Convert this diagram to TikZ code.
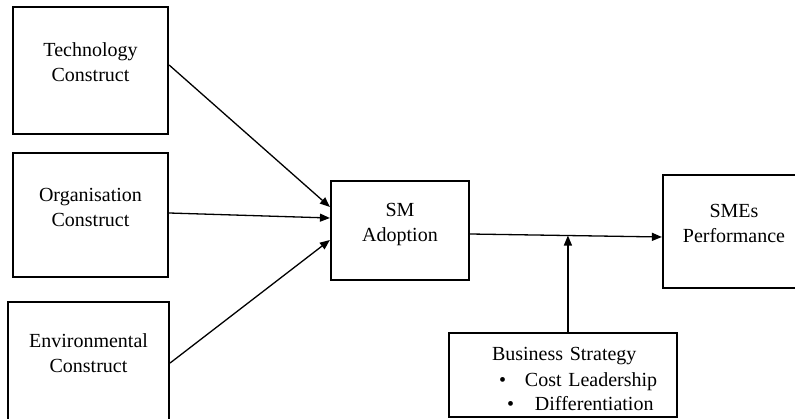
\documentclass[tikz,border=0pt]{standalone}
\usepackage{fontspec}
\setmainfont{Liberation Serif}
\usetikzlibrary{arrows.meta}
\begin{document}
\begin{tikzpicture}[x=1pt,y=-1pt,
    font=\fontsize{20}{25}\selectfont,
    box/.style={draw, line width=2.2pt, align=center, inner sep=0pt,
      text height=23pt, text depth=0pt},
    arr/.style={-{Triangle[length=10pt,width=8pt]}, line width=1.3pt}]
    \useasboundingbox (0,0) rectangle (795,419);

    \node (tech) at (90.5,70.5) [box, minimum width=155pt, minimum height=127pt] {Technology\\Construct};
    \node (org) at (90.5,215) [box, minimum width=155pt, minimum height=124pt] {Organisation\\Construct};
    \node (env) at (88.5,361.5) [box, minimum width=161pt, minimum height=119pt] {Environmental\\Construct};

    \node (sm) at (400,230.5) [box, minimum width=138pt, minimum height=99pt] {SM\\Adoption};
    \node (perf) at (734,231.5) [box, minimum width=142pt, minimum height=113pt] {SMEs\\Performance};

    \node (strat) at (563,375) [draw, line width=1.2pt, inner sep=0pt, minimum width=228pt,
      minimum height=84pt, text width=228pt, align=left, text height=14pt, text depth=42pt]
      {\hspace*{43pt}Business Strategy\\\hspace*{50pt}\makebox[26pt][l]{\textbullet}Cost Leadership\\\hspace*{58pt}\makebox[28pt][l]{\textbullet}Differentiation};

    \draw[arr] ([yshift=5.5pt]tech.east) -- ([yshift=23.5pt]sm.west);
    \draw[arr] ([yshift=2pt]org.east) -- ([yshift=12.5pt]sm.west);
    \draw[arr] ([yshift=-1.5pt]env.east) -- ([yshift=-9.5pt]sm.west);

    \draw[arr] ([yshift=-3.5pt]sm.east) -- coordinate[pos=0.51] (m) ([yshift=-5.5pt]perf.west);
    \draw[arr] (strat.north -| m) -- (m);
\end{tikzpicture}
\end{document}
